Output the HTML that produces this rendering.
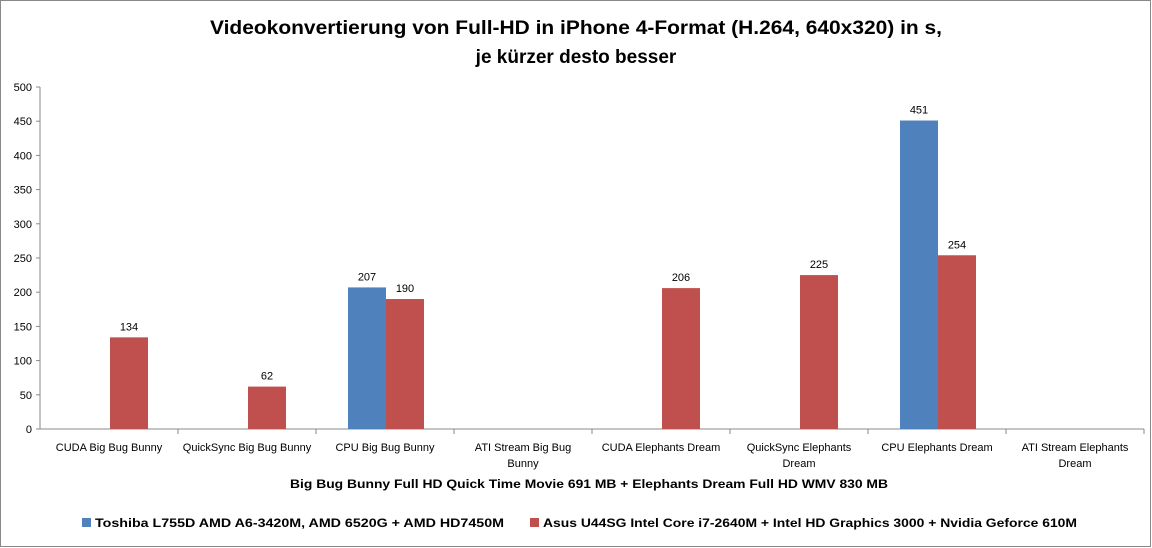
<!DOCTYPE html>
<html><head><meta charset="utf-8"><style>
html,body{margin:0;padding:0;background:#fff}
svg{display:block;font-family:"Liberation Sans",sans-serif}
</style></head><body>
<svg id="chart" width="1152" height="548">
<rect x="0.5" y="0.5" width="1150" height="546" fill="#fff" stroke="#888"/>
<text x="210" y="34" textLength="732" lengthAdjust="spacingAndGlyphs" font-size="19" font-weight="bold">Videokonvertierung von Full-HD in iPhone 4-Format (H.264, 640x320) in s,</text>
<text x="576" y="63" text-anchor="middle" font-size="19" font-weight="bold">je kürzer desto besser</text>
<g id="plot"></g>
<text x="290" y="488" textLength="598" lengthAdjust="spacingAndGlyphs" font-size="12" font-weight="bold">Big Bug Bunny Full HD Quick Time Movie 691 MB + Elephants Dream Full HD WMV 830 MB</text>
<g>
<rect x="82" y="518" width="9" height="9" fill="#4F81BD"/>
<text x="95" y="527" textLength="409" lengthAdjust="spacingAndGlyphs" font-size="12" font-weight="bold">Toshiba L755D AMD A6-3420M, AMD 6520G + AMD HD7450M</text>
<rect x="530" y="518" width="9" height="9" fill="#C0504D"/>
<text x="543" y="527" textLength="534" lengthAdjust="spacingAndGlyphs" font-size="12" font-weight="bold">Asus U44SG Intel Core i7-2640M + Intel HD Graphics 3000 + Nvidia Geforce 610M</text>
</g>
</svg>
<script>
const categories=[["CUDA Big Bug Bunny"],["QuickSync Big Bug Bunny"],["CPU Big Bug Bunny"],["ATI Stream Big Bug","Bunny"],["CUDA Elephants Dream"],["QuickSync Elephants","Dream"],["CPU Elephants Dream"],["ATI Stream Elephants","Dream"]];
const toshiba=[null,null,207,null,null,null,451,null];
const asus=[134,62,190,null,206,225,254,null];
const yTicks=[0,50,100,150,200,250,300,350,400,450,500];
const NS="http://www.w3.org/2000/svg";
const g=document.getElementById('plot');
const x0=40,x1=1144,yTop=87,yBot=429,yMax=500;
const bw=(x1-x0)/categories.length, barW=38;
const y=v=>yBot-(v/yMax)*(yBot-yTop);
const cx=i=>x0+bw*(i+0.5);
function mk(t,a){const e=document.createElementNS(NS,t);for(const k in a)e.setAttribute(k,a[k]);g.appendChild(e);return e;}
yTicks.forEach(t=>{
 const l=mk('line',{x1:x0-4,x2:x0,y1:y(t),y2:y(t),stroke:'#888'});
 
 
 const tx=mk('text',{x:x0-8,y:y(t)+4,'text-anchor':'end','font-size':11});
 tx.textContent=t;
 
 
});
const ya=mk('line',{x1:x0,x2:x0,y1:yTop,y2:yBot,stroke:'#888'});


const xa=mk('line',{x1:x0,x2:x1,y1:yBot,y2:yBot,stroke:'#888'});


categories.forEach((c,i)=>{
 const tk=mk('line',{x1:x0+bw*(i+1),x2:x0+bw*(i+1),y1:yBot,y2:yBot+5,stroke:'#888'});
 
 
 c.forEach((ln,j)=>{
  const t=mk('text',{x:cx(i),y:yBot+22+j*16,'text-anchor':'middle','font-size':11});
  t.textContent=ln;
  
  
 });
});
function bars(arr,off,color,name){
 arr.forEach((v,i)=>{
  if(v==null)return;
  const bx=cx(i)+off;
  const r=mk('rect',{x:bx,y:y(v),width:barW,height:yBot-y(v),fill:color});
  
  
  const t=mk('text',{x:bx+barW/2,y:y(v)-7,'text-anchor':'middle','font-size':11});
  t.textContent=v;
  
  
 });
}
bars(toshiba,-barW+1,'#4F81BD','toshiba');
bars(asus,1,'#C0504D','asus');
</script>
</body></html>
